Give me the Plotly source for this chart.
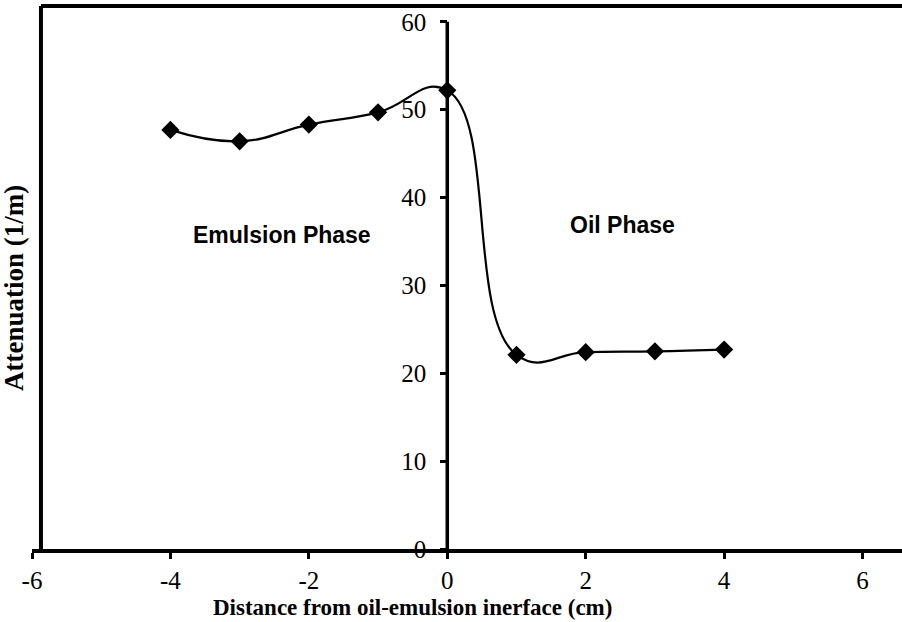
import plotly.graph_objects as go

# Attenuation measured across the oil-emulsion interface
distance_cm = [-4, -3, -2, -1, 0, 1, 2, 3, 4]
attenuation = [47.7, 46.4, 48.3, 49.7, 52.2, 22.1, 22.4, 22.5, 22.7]

x_ticks = [-6, -4, -2, 0, 2, 4, 6]
y_ticks = [0, 10, 20, 30, 40, 50, 60]

W, H = 902, 622
ML, MR, MT, MB = 32, 0, 6, 73
X_MIN, X_MAX = -6, 6.57
Y_MIN, Y_MAX = 0, 61.8

serif = "Liberation Serif, Times New Roman, serif"
sans = "Liberation Sans, Arial, sans-serif"

PW = W - ML - MR
PH = H - MT - MB

fig = go.Figure()
fig.add_trace(go.Scatter(
    x=distance_cm, y=attenuation,
    mode="lines+markers",
    line=dict(color="black", width=2.2, shape="spline", smoothing=1.3),
    marker=dict(symbol="diamond", size=14, color="black"),
    showlegend=False, cliponaxis=False,
))

# y axis sits at x = 0
y_pos = (0 - X_MIN) / (X_MAX - X_MIN)

fig.update_layout(
    width=W, height=H,
    margin=dict(l=ML, r=MR, t=MT, b=MB),
    paper_bgcolor="white", plot_bgcolor="white",
    xaxis=dict(
        range=[X_MIN, X_MAX], tickvals=x_ticks,
        ticktext=[str(v) for v in x_ticks],
        showgrid=False, zeroline=False,
        showline=True, linecolor="black", linewidth=3.5,
        ticks="outside", ticklen=6, tickwidth=2.5, tickcolor="black",
        ticklabelstandoff=0,
        tickfont=dict(family=serif, size=25, color="black"),
    ),
    yaxis=dict(
        range=[Y_MIN, Y_MAX], tickvals=y_ticks,
        ticktext=[str(v) for v in y_ticks],
        anchor="free", position=y_pos,
        showgrid=False, zeroline=False, showline=False,
        ticks="outside", ticklen=7, tickwidth=2.5, tickcolor="black",
        ticklabelstandoff=9,
        tickfont=dict(family=serif, size=25, color="black"),
    ),
    shapes=[
        # y axis line from 0 to 60
        dict(type="line", xref="x", yref="y", x0=0, x1=0, y0=0, y1=60,
             line=dict(color="black", width=3.5)),
        # outer frame: left and top
        dict(type="line", xref="paper", yref="paper", x0=0.0103, x1=0.0103,
             y0=0, y1=1, line=dict(color="black", width=4)),
        dict(type="line", xref="paper", yref="paper", x0=0.0103, x1=1.0,
             y0=1, y1=1, line=dict(color="black", width=4)),
    ],
    annotations=[
        dict(text="<b>Distance from oil-emulsion inerface (cm)</b>",
             xref="paper", yref="paper", x=(412 - ML) / PW,
             y=-(607 - (H - MB)) / PH, showarrow=False,
             xanchor="center", yanchor="middle",
             font=dict(family=serif, size=23, color="black")),
        dict(text="<b>Attenuation (1/m)</b>",
             xref="paper", yref="paper", x=-(ML - 14) / PW,
             y=(H - MB - 288) / PH, showarrow=False, textangle=-90,
             xanchor="center", yanchor="middle",
             font=dict(family=serif, size=27, color="black")),
        dict(text="<b>Emulsion Phase</b>", xref="paper", yref="paper",
             x=(282 - ML) / PW, y=(H - MB - 235) / PH, showarrow=False,
             xanchor="center", yanchor="middle",
             font=dict(family=sans, size=23, color="black")),
        dict(text="<b>Oil Phase</b>", xref="paper", yref="paper",
             x=(622 - ML) / PW, y=(H - MB - 225) / PH, showarrow=False,
             xanchor="center", yanchor="middle",
             font=dict(family=sans, size=23, color="black")),
    ],
)

fig.write_html("out.html")
